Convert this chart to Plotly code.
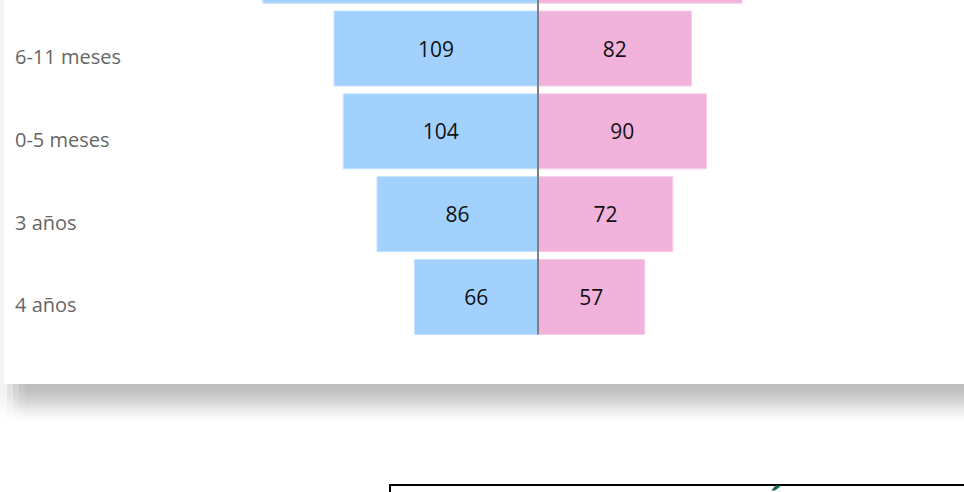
import plotly.graph_objects as go

# ---------------- data ----------------
categories = ["1 año", "6-11 meses", "0-5 meses", "3 años", "4 años"]
hombres = [147, 109, 104, 86, 66]
mujeres = [109, 82, 90, 72, 57]
titulo_inferior = "DESNUTRICIÓN"

W, H = 964, 492
BLUE = "#A3D1FE"
PINK = "#F1B3DB"

idx = list(range(len(categories)))

fig = go.Figure()
fig.add_trace(go.Bar(
    y=idx, x=[-v for v in hombres], orientation="h",
    text=[str(v) for v in hombres], textposition="inside",
    insidetextanchor="middle", textangle=0,
    textfont=dict(family="Open Sans", size=21, color="#111111"),
    marker=dict(color=BLUE, line=dict(color="#C4E2FF", width=1)),
    hoverinfo="skip", showlegend=False, cliponaxis=True,
))
fig.add_trace(go.Bar(
    y=idx, x=mujeres, orientation="h",
    text=[str(v) for v in mujeres], textposition="inside",
    insidetextanchor="middle", textangle=0,
    textfont=dict(family="Open Sans", size=21, color="#111111"),
    marker=dict(color=PINK, line=dict(color="#F6CDE7", width=1)),
    hoverinfo="skip", showlegend=False, cliponaxis=True,
))

# pixel geometry
px_per_unit = 1.872
x_zero_px = 538
row_pitch = 82.83
row1_center_px = 48.5
card_bottom = 384

y_top = 1 - row1_center_px / row_pitch
y_bot = 1 + (card_bottom - row1_center_px) / row_pitch

shapes = []
# left grey strip of the page
shapes.append(dict(type="rect", xref="paper", yref="paper", x0=0, x1=4 / W,
                   y0=1 - card_bottom / H, y1=1, fillcolor="#F3F3F3",
                   line=dict(width=0), layer="below"))
# card shadow (gradient strips)
rows = 21
for i in range(rows):
    y0p = card_bottom + i * 2
    t = i / (rows - 1)
    s = t * t * (3 - 2 * t)
    base = 190 + 65 * s
    segs = [(0, 7, 0.2), (7, 13, 0.45), (13, 19, 0.7), (19, 25, 0.9), (25, W + 10, 1.0)]
    for a, b, f in segs:
        v = int(round(255 - (255 - base) * f))
        shapes.append(dict(type="rect", xref="paper", yref="paper",
                           x0=a / W, x1=b / W,
                           y0=1 - (y0p + 2) / H, y1=1 - y0p / H,
                           fillcolor=f"rgb({v},{v},{v})",
                           line=dict(width=0), layer="below"))
# centre line
shapes.append(dict(type="line", xref="x", yref="y", x0=0, x1=0,
                   y0=-1, y1=len(categories) - 1 + 0.4525,
                   line=dict(color="#808080", width=2)))
# bottom box
shapes.append(dict(type="rect", xref="paper", yref="paper",
                   x0=390 / W, x1=1.05, y0=-0.2, y1=1 - 485 / H,
                   line=dict(color="#000000", width=2), fillcolor="rgba(0,0,0,0)"))

annotations = []
for i, c in enumerate(categories):
    if i == 0:
        continue  # row label lies above the visible area
    annotations.append(dict(text=c, xref="paper", yref="y", x=13 / W, y=i,
                            xanchor="left", yanchor="middle", yshift=-8,
                            showarrow=False,
                            font=dict(family="Open Sans", size=20, color="#666666")))
annotations.append(dict(text=f"<b>{titulo_inferior}</b>", xref="paper", yref="paper",
                        x=692 / W, y=1 - 503 / H, xanchor="center", yanchor="middle",
                        showarrow=False,
                        font=dict(family="Open Sans", size=32, color="#17664F")))

fig.update_layout(
    width=W, height=H,
    margin=dict(l=0, r=0, t=0, b=0, pad=0),
    paper_bgcolor="#FFFFFF", plot_bgcolor="#FFFFFF",
    barmode="relative", bargap=0.095,
    xaxis=dict(range=[-(x_zero_px - 4) / px_per_unit, (W - x_zero_px) / px_per_unit],
               domain=[4 / W, 1], visible=False, fixedrange=True),
    yaxis=dict(range=[y_bot, y_top], domain=[1 - card_bottom / H, 1], visible=False,
               fixedrange=True),
    shapes=shapes, annotations=annotations,
)

fig.write_html("out.html", config={"displayModeBar": False},
               post_script="document.body.style.margin='0';document.body.style.overflow='hidden';")
